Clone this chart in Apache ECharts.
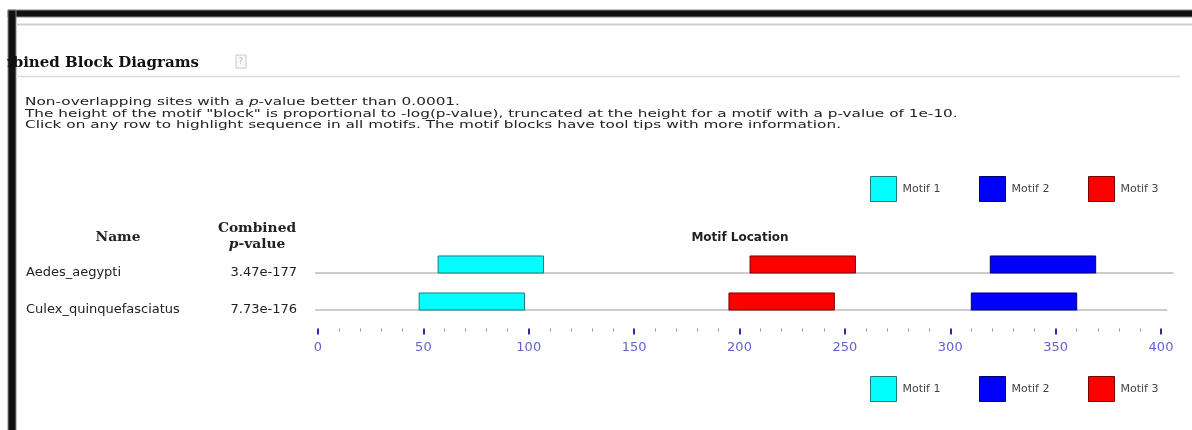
<!DOCTYPE html>
<html>
<head>
<meta charset="utf-8">
<script src="https://cdn.jsdelivr.net/npm/echarts@6/dist/echarts.min.js"></script>
<style>
html,body{margin:0;padding:0;background:#fff;}
#chart{width:1192px;height:430px;}
</style>
</head>
<body>
<div id="chart"></div>
<script>
// ---- data ----
const titleText = 'Combined Block Diagrams';
const notes = [
  'Non-overlapping sites with a {i|p}-value better than 0.0001.',
  'The height of the motif "block" is proportional to -log(p-value), truncated at the height for a motif with a p-value of 1e-10.',
  'Click on any row to highlight sequence in all motifs. The motif blocks have tool tips with more information.'
];
const headerName = 'Name';
const headerPValue = ['Combined', '{i|p}-value'];
const headerLocation = 'Motif Location';
const names = ['Aedes_aegypti', 'Culex_quinquefasciatus'];
const pValues = ['3.47e-177', '7.73e-176'];
const seqLengths = [406, 403];
const motifNames = ['Motif 1', 'Motif 2', 'Motif 3'];
const motif1 = [[57, 107], [48, 98]];
const motif2 = [[319, 369], [310, 360]];
const motif3 = [[205, 255], [195, 245]];
const axisMin = 0, axisMax = 400, axisStep = 50;

// ---- styles ----
const motifColors = ['#00ffff', '#0000ff', '#ff0000'];
const motifBorders = ['#1f7a7a', '#000070', '#7a0000'];
const SANS = '"DejaVu Sans", Verdana, sans-serif';
const SERIF = '"DejaVu Serif", Georgia, serif';

const chart = echarts.init(document.getElementById('chart'));

function motifData(arr) {
  return arr.map((d, i) => [i, d[0], d[1]]);
}

function renderMotif(params, api) {
  const row = api.value(0);
  const p0 = api.coord([api.value(1), row]);
  const p1 = api.coord([api.value(2), row]);
  const h = api.size([0, 1])[1] * 0.46;
  return {
    type: 'rect',
    shape: { x: p0[0], y: p0[1] - h, width: p1[0] - p0[0], height: h },
    style: api.style()
  };
}

function renderSeq(params, api) {
  const row = api.value(0);
  const p0 = api.coord([0, row]);
  const p1 = api.coord([api.value(1), row]);
  return {
    type: 'line',
    shape: { x1: p0[0] - 3, y1: p0[1], x2: p1[0], y2: p1[1] },
    style: { stroke: '#9a9a9a', lineWidth: 1 }
  };
}

const motifSets = [motif1, motif2, motif3];
const series = [{
  type: 'custom',
  name: 'seq',
  renderItem: renderSeq,
  data: seqLengths.map((l, i) => [i, l]),
  encode: { x: 1, y: 0 },
  silent: true,
  z: 1
}];
motifNames.forEach((n, k) => {
  series.push({
    type: 'custom',
    name: n,
    renderItem: renderMotif,
    data: motifData(motifSets[k]),
    encode: { x: [1, 2], y: 0 },
    itemStyle: { color: motifColors[k], borderColor: motifBorders[k], borderWidth: 1 },
    z: 2
  });
});

const legendX = [870, 979, 1088];
const legendY = [176, 376];
const legends = [];
legendY.forEach(ty => {
  motifNames.forEach((n, k) => {
    legends.push({
      data: [n],
      left: legendX[k],
      top: ty,
      padding: 0,
      icon: 'rect',
      itemWidth: 26,
      itemHeight: 25,
      itemGap: 6,
      itemStyle: { borderColor: motifBorders[k], borderWidth: 1 },
      textStyle: { fontFamily: SANS, fontSize: 11, color: '#444', padding: [0, 0, 0, 1] }
    });
  });
});

function txt(x, y, text, opts) {
  const o = Object.assign({ size: 12, family: SANS, weight: 'normal', align: 'left', color: '#222', sx: 1, rich: null }, opts || {});
  const style = {
    text: text,
    fill: o.color,
    font: o.weight + ' ' + o.size + 'px ' + o.family,
    fontSize: o.size, fontFamily: o.family, fontWeight: o.weight,
    align: o.align, verticalAlign: 'middle',
    textAlign: o.align, textVerticalAlign: 'middle'
  };
  if (o.rich) style.rich = o.rich;
  return { type: 'text', x: x, y: y, scaleX: o.sx, style: style, z: 10, silent: true };
}

const graphics = [];
// frame
graphics.push({ type: 'rect', shape: { x: 8, y: 10, width: 1190, height: 7 }, style: { fill: '#111', stroke: '#888', lineWidth: 1 }, z: 5, silent: true });
graphics.push({ type: 'rect', shape: { x: 8, y: 10, width: 8, height: 430 }, style: { fill: '#111', stroke: '#888', lineWidth: 1 }, z: 5, silent: true });
graphics.push({ type: 'line', shape: { x1: 16, y1: 24.5, x2: 1192, y2: 24.5 }, style: { stroke: '#d0d0d0', lineWidth: 2 }, z: 5, silent: true });
graphics.push({ type: 'line', shape: { x1: 16, y1: 76.5, x2: 1180, y2: 76.5 }, style: { stroke: '#dcdcdc', lineWidth: 1.5 }, z: 5, silent: true });
// title (clipped at left)
graphics.push(txt(199, 63, titleText, { size: 15, family: SERIF, weight: 'bold', align: 'right', color: '#111', sx: 1.0 }));
graphics.push({ type: 'rect', shape: { x: 0, y: 45, width: 7, height: 35 }, style: { fill: '#fff' }, z: 12, silent: true });
// help icon
graphics.push({ type: 'rect', shape: { x: 236, y: 55, width: 10, height: 13 }, style: { fill: '#fafafa', stroke: '#c8c8c8', lineWidth: 1 }, z: 10, silent: true });
graphics.push(txt(241, 61.5, '?', { size: 9, color: '#bbb', align: 'center' }));
// notes
const noteY = [102.5, 114, 125.5];
const noteRich = { i: { fontStyle: 'italic', fontFamily: SANS, fontSize: 11, fill: '#222', color: '#222' } };
notes.forEach((t, i) => {
  graphics.push(txt(25, noteY[i], t, { size: 11, sx: 1.39, rich: noteRich, color: '#222' }));
});
// headers
const headRich = { i: { fontStyle: 'italic', fontFamily: SERIF, fontWeight: 'bold', fontSize: 12, color: '#222' } };
graphics.push(txt(118, 238, headerName, { size: 12, family: SERIF, weight: 'bold', align: 'center', sx: 1.15 }));
graphics.push(txt(257, 229, headerPValue[0], { size: 12, family: SERIF, weight: 'bold', align: 'center', sx: 1.15 }));
graphics.push(txt(257, 245, headerPValue[1], { size: 12, family: SERIF, weight: 'bold', align: 'center', sx: 1.15, rich: headRich }));
graphics.push(txt(740, 238, headerLocation, { size: 12, weight: 'bold', align: 'center', sx: 1.0 }));

const option = {
  animation: false,
  backgroundColor: '#fff',
  legend: legends,
  grid: { left: 318, right: 31, top: 254.5, height: 74, containLabel: false },
  xAxis: {
    type: 'value', min: axisMin, max: axisMax, interval: axisStep,
    axisLine: { show: false },
    axisTick: { show: true, length: 6, lineStyle: { color: '#2d2da8', width: 2 } },
    minorTick: { show: true, splitNumber: 5, length: 3, lineStyle: { color: '#9a9a9a', width: 1 } },
    splitLine: { show: false },
    axisLabel: { color: '#6262d6', fontFamily: SANS, fontSize: 13, margin: 13 }
  },
  yAxis: [{
    type: 'category', data: names, inverse: true, position: 'left',
    axisLine: { show: false }, axisTick: { show: false },
    axisLabel: { align: 'left', margin: 292, fontFamily: SANS, fontSize: 13, color: '#222' }
  }, {
    type: 'category', data: pValues, inverse: true, position: 'left',
    axisLine: { show: false }, axisTick: { show: false },
    axisLabel: { align: 'right', margin: 21, fontFamily: SANS, fontSize: 13, color: '#222' }
  }],
  graphic: graphics,
  series: series
};
chart.setOption(option);
</script>
</body>
</html>
